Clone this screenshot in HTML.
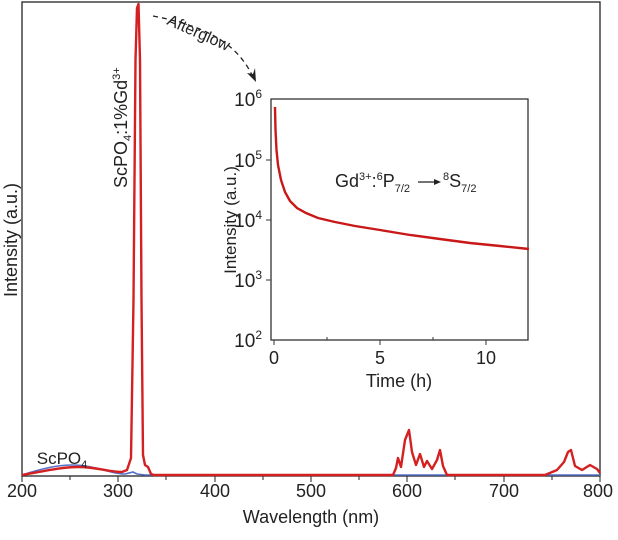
<!DOCTYPE html><html><head><style>body{margin:0;background:#fff}svg{font-family:"Liberation Sans",sans-serif}</style></head><body>
<svg width="618" height="535" viewBox="0 0 618 535">
<rect x="22" y="2" width="578" height="474" fill="none" stroke="#222" stroke-width="1.3"/>
<g stroke="#222" stroke-width="1">
<line x1="22" y1="476" x2="22" y2="482"/><line x1="118" y1="476" x2="118" y2="482"/><line x1="215" y1="476" x2="215" y2="482"/><line x1="311" y1="476" x2="311" y2="482"/><line x1="407" y1="476" x2="407" y2="482"/><line x1="504" y1="476" x2="504" y2="482"/><line x1="600" y1="476" x2="600" y2="482"/>
<line x1="70" y1="476" x2="70" y2="480"/><line x1="166" y1="476" x2="166" y2="480"/><line x1="263" y1="476" x2="263" y2="480"/><line x1="359" y1="476" x2="359" y2="480"/><line x1="455" y1="476" x2="455" y2="480"/><line x1="552" y1="476" x2="552" y2="480"/>
</g>
<g font-size="18" fill="#222" text-anchor="middle">
<text x="22" y="497">200</text><text x="118" y="497">300</text><text x="215" y="497">400</text><text x="311" y="497">500</text><text x="407" y="497">600</text><text x="504" y="497">700</text><text x="598" y="497">800</text>
<text x="311" y="523">Wavelength (nm)</text>
<text transform="translate(17,240) rotate(-90)">Intensity (a.u.)</text>
</g>
<path d="M22,475 C40,469 58,465 72,465 C95,465 110,474 125,474 L133,472 L137,474 L145,475 L600,475" fill="none" stroke="#5570c8" stroke-width="1.6"/>
<path d="M22,475 C45,471 62,467 78,467 C98,467 108,472 122,472 L127,470 L131,458 L133.5,300 L135.5,60 L137,8 L138.5,4 L140,60 L141.5,300 L143,455 L145,465 L148,467 L151,474 L154,475 L393,475 L396,468 L398,458 L401,467 L405,440 L409,430 L412,452 L416,465 L420,454 L424,467 L427,461 L432,469 L437,460 L440,450 L443,466 L447,475 L545,475 L557,470 L564,462 L568,452 L571,450 L575,466 L582,470 L590,465 L597,469 L600,473" fill="none" stroke="#d42020" stroke-width="2.4" stroke-linejoin="round"/>
<text font-size="17" fill="#222" text-anchor="middle" x="62" y="464">ScPO<tspan font-size="11" dy="4">4</tspan></text>
<text font-size="18" fill="#222" transform="translate(127,188) rotate(-90)">ScPO<tspan font-size="11" dy="4">4</tspan><tspan dy="-4">:1%Gd</tspan><tspan font-size="11" dy="-7">3+</tspan></text>
<text font-size="16" fill="#222" transform="translate(166,24) rotate(24)">Afterglow</text>
<path d="M153,16 C200,25 235,40 252,75" fill="none" stroke="#222" stroke-width="1.3" stroke-dasharray="5,4"/>
<path d="M256,82 L247,73 L253,74 L255,68 Z" fill="#222"/>
<rect x="271" y="99" width="257" height="241" fill="none" stroke="#333" stroke-width="1.3"/>
<g stroke="#333" stroke-width="1">
<line x1="274" y1="340" x2="274" y2="345"/><line x1="380" y1="340" x2="380" y2="345"/><line x1="486" y1="340" x2="486" y2="345"/><line x1="327" y1="340" x2="327" y2="337"/><line x1="433" y1="340" x2="433" y2="337"/>
<line x1="271" y1="160" x2="266" y2="160"/><line x1="271" y1="220" x2="266" y2="220"/><line x1="271" y1="280" x2="266" y2="280"/>
</g>
<g font-size="19" fill="#222" text-anchor="end">
<text x="262" y="106">10<tspan font-size="12" dy="-8">6</tspan></text>
<text x="262" y="167">10<tspan font-size="12" dy="-8">5</tspan></text>
<text x="262" y="227">10<tspan font-size="12" dy="-8">4</tspan></text>
<text x="262" y="287">10<tspan font-size="12" dy="-8">3</tspan></text>
<text x="262" y="347">10<tspan font-size="12" dy="-8">2</tspan></text>
</g>
<g font-size="18" fill="#222" text-anchor="middle">
<text x="274" y="364">0</text><text x="380" y="364">5</text><text x="486" y="364">10</text>
<text x="399" y="387">Time (h)</text>
<text font-size="17" transform="translate(236,220) rotate(-90)">Intensity (a.u.)</text>
</g>
<path d="M275,107 L275.5,130 L276.5,150 L278,165 L281,180 L285,192 L290,201 L297,208 L306,213 L318,218 L335,222 L355,226 L380,230 L410,235 L440,239 L470,243 L500,246 L529,249" fill="none" stroke="#c81818" stroke-width="2.4"/>
<text font-size="18" fill="#222" x="335" y="187">Gd<tspan font-size="11" dy="-7">3+</tspan><tspan dy="7">:</tspan><tspan font-size="11" dy="-7">6</tspan><tspan dy="7">P</tspan><tspan font-size="11" dy="5">7/2</tspan></text>
<line x1="418" y1="182" x2="436" y2="182" stroke="#222" stroke-width="1.3"/><path d="M441,182 L434,179 L434,185 Z" fill="#222"/>
<text font-size="18" fill="#222" x="443" y="187"><tspan font-size="11" dy="-7">8</tspan><tspan dy="7">S</tspan><tspan font-size="11" dy="5">7/2</tspan></text>
</svg></body></html>
